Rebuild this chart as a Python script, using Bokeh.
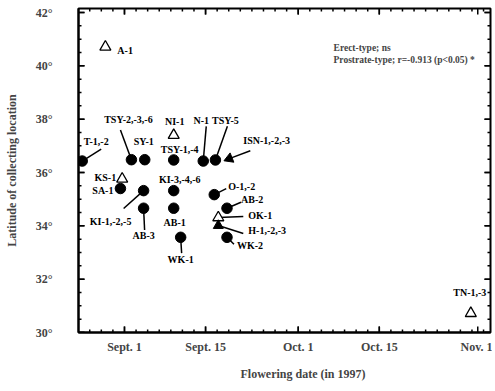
import math
from bokeh.plotting import figure
from bokeh.models import Range1d, FixedTicker, ColumnDataSource, Label, Title
from bokeh.embed import file_html
from bokeh.resources import INLINE
from bokeh.core.properties import value

# ---- data (days after Sept. 1, 1997; latitude in degrees N) ----
names = ["A-1", "T-1,-2", "TSY-2,-3,-6", "SY-1", "NI-1", "TSY-1,-4", "N-1", "TSY-5",
         "ISN-1,-2,-3", "KS-1", "SA-1", "KI-1,-2,-5", "KI-3,-4,-6", "AB-3", "AB-1",
         "WK-1", "O-1,-2", "AB-2", "OK-1", "H-1,-2,-3", "WK-2", "TN-1,-3"]
days = [-3.3, -7.3, 1.2, 3.5, 8.5, 8.5, 13.6, 15.7,
        18.1, -0.4, -0.7, 3.3, 8.5, 3.3, 8.5,
        9.7, 15.5, 17.7, 16.2, 16.2, 17.7, 59.8]
lats = [40.71, 36.43, 36.48, 36.48, 37.40, 36.47, 36.43, 36.47,
        36.52, 35.76, 35.40, 35.32, 35.32, 34.66, 34.66,
        33.57, 35.17, 34.66, 34.31, 34.01, 33.57, 30.72]
kinds = ["erect", "prostrate", "prostrate", "prostrate", "erect", "prostrate", "prostrate", "prostrate",
         "filled", "erect", "prostrate", "prostrate", "prostrate", "prostrate", "prostrate",
         "prostrate", "prostrate", "prostrate", "erect", "filled", "prostrate", "erect"]

x_tick_days = [0, 14, 30, 44, 61]
x_tick_labels = ["Sept. 1", "Sept. 15", "Oct. 1", "Oct. 15", "Nov. 1"]
x_minor_days = list(range(-8, 64, 2))
y_ticks = [30, 32, 34, 36, 38, 40, 42]
y_tick_labels = ["30°", "32°", "34°", "36°", "38°", "40°", "42°"]
y_minor = [30 + 0.5 * i for i in range(25)]

stat_lines = ["Erect-type; ns", "Prostrate-type; r=-0.913 (p<0.05) *"]
x_title = "Flowering date (in 1997)"
y_title = "Latitude of collecting location"

# ---- layout of labels (screen pixels relative to marker, y downwards) ----
lab_dx = [12, 14, -3, -1, 1, 6, -2, 10, 14, -6, -7, -33, 6, 0, 1, 0, 14, 14, 30, 30, 10, -1]
lab_dy = [4, -20, -41, -18, -14, -11, -41, -40, -18, -1, 2, 31, -11, 28, 14, 22, -8, -9, -2, 5, 8, -21]
lab_align = ["left", "center", "center", "center", "center", "center", "center", "center",
             "left", "right", "right", "center", "center", "center", "center", "center",
             "left", "left", "left", "left", "left", "center"]
lead = {1: (19, -12), 2: (-11, -30), 6: (3, -35), 7: (12, -34), 8: (21, -8),
        11: (-20, 18), 13: (1, 22), 15: (1, 16), 16: (12, -6), 17: (14, -6),
        18: (25, -1), 19: (25, 8), 20: (7, 7)}
filled_angle = {8: math.radians(112), 19: 0.0}

X0, X1 = -7.94, 63.2
Y0, Y1 = 30.0, 42.15
W, H = 492, 389
BL, BR, BT, BB = 78, 2, 8, 54
PXX = (W - BL - BR) / (X1 - X0)
PXY = (H - BT - BB) / (Y1 - Y0)

FONT = "Liberation Serif"

p = figure(width=W, height=H, x_range=Range1d(X0, X1), y_range=Range1d(Y0, Y1),
           output_backend="svg", toolbar_location=None,
           min_border_left=BL, min_border_right=BR, min_border_top=BT, min_border_bottom=BB)
p.xgrid.visible = False
p.ygrid.visible = False
p.outline_line_color = "black"
p.outline_line_width = 2
p.background_fill_color = "white"
p.border_fill_color = "white"

xa = p.xaxis[0]
xa.ticker = FixedTicker(ticks=x_tick_days)
xa.major_label_overrides = dict(zip(x_tick_days, x_tick_labels))
xa.axis_label = None
xa.axis_line_width = 2
xa.major_tick_line_color = None
xa.minor_tick_line_color = None
xa.major_tick_out = 0
xa.major_tick_in = 0
xa.minor_tick_out = 0
xa.minor_tick_in = 0
xa.major_label_text_font = FONT
xa.major_label_text_font_style = "bold"
xa.major_label_text_font_size = "12px"
xa.major_label_standoff = 7

ya = p.yaxis[0]
ya.ticker = FixedTicker(ticks=y_ticks)
ya.major_label_overrides = dict(zip(y_ticks, y_tick_labels))
ya.axis_line_width = 2
ya.major_tick_line_color = None
ya.minor_tick_line_color = None
ya.major_tick_out = 0
ya.major_tick_in = 0
ya.minor_tick_out = 0
ya.minor_tick_in = 0
ya.major_label_text_font = FONT
ya.major_label_text_font_style = "bold"
ya.major_label_text_font_size = "12px"
ya.major_label_standoff = 26
ya.axis_label = y_title
ya.axis_label_text_font = FONT
ya.axis_label_text_font_style = "bold"
ya.axis_label_text_font_size = "12px"
ya.axis_label_standoff = 14

# x-axis title, a little right of centre as in the original
p.add_layout(Title(text=x_title, align="left", offset=162, standoff=17,
                   text_font=FONT, text_font_style="bold", text_font_size="12px"), "below")

# inward ticks on all four sides of the frame
MAJ, MIN = 6, 3
tx0, ty0, tx1, ty1 = [], [], [], []
for d in x_minor_days + x_tick_days:
    L = MAJ if d in x_tick_days else MIN
    tx0 += [d, d]; tx1 += [d, d]
    ty0 += [Y0, Y1]; ty1 += [Y0 + L / PXY, Y1 - L / PXY]
for v in y_minor + y_ticks:
    L = MAJ if v in y_ticks else MIN
    ty0 += [v, v]; ty1 += [v, v]
    tx0 += [X0, X1]; tx1 += [X0 + L / PXX, X1 - L / PXX]
p.segment(x0=tx0, y0=ty0, x1=tx1, y1=ty1, line_color="black", line_width=1.5)

# leader lines
sx0, sy0, sx1, sy1 = [], [], [], []
for i, (ddx, ddy) in lead.items():
    sx0.append(days[i]); sy0.append(lats[i])
    sx1.append(days[i] + ddx / PXX); sy1.append(lats[i] - ddy / PXY)
p.segment(x0=sx0, y0=sy0, x1=sx1, y1=sy1, line_color="black", line_width=1.5)

def sel(k):
    idx = [i for i in range(len(kinds)) if kinds[i] == k]
    return ColumnDataSource(dict(x=[days[i] for i in idx], y=[lats[i] for i in idx],
                                 a=[filled_angle.get(i, 0.0) for i in idx]))

p.scatter("x", "y", source=sel("prostrate"), marker="circle", size=10.5,
          fill_color="black", line_color="black")
p.scatter("x", "y", source=sel("erect"), marker="triangle", size=11, fill_color="white",
          line_color="black", line_width=1.3)
p.scatter("x", "y", source=sel("filled"), marker="triangle", size=10, angle="a",
          fill_color="black", line_color="black")

# point labels
for align in ("left", "center", "right"):
    idx = [i for i in range(len(names)) if lab_align[i] == align]
    src = ColumnDataSource(dict(
        x=[days[i] + lab_dx[i] / PXX for i in idx],
        y=[lats[i] - lab_dy[i] / PXY for i in idx],
        t=[names[i] for i in idx]))
    p.text("x", "y", text="t", source=src, text_align=align, text_baseline="middle",
           text_font=value(FONT), text_font_style="bold", text_font_size="10px",
           text_color="black")

for j, s in enumerate(stat_lines):
    p.add_layout(Label(x=36.1, y=40.67 - j * 0.45, text=s, text_font=FONT,
                       text_font_style="bold", text_font_size="9.5px",
                       text_baseline="middle", text_align="left"))

open("out.html", "w").write(file_html(p, INLINE))
